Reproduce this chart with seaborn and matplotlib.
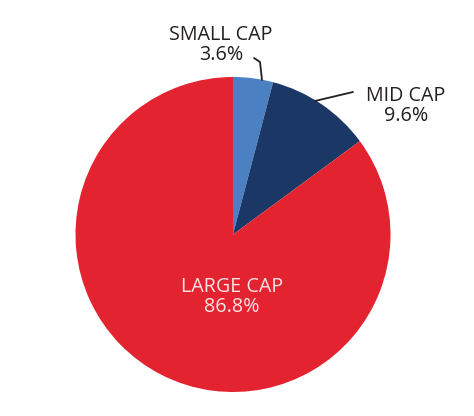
import matplotlib
matplotlib.use("Agg")
import matplotlib.pyplot as plt
import seaborn as sns

# market cap split
categories = ["SMALL CAP", "MID CAP", "LARGE CAP"]
label_pct = [3.6, 9.6, 86.8]
# wedge sizes as drawn in the picture (slightly off from the printed labels)
wedge_pct = [4.1, 10.8, 85.1]
colors = ["#4b80c3", "#1b3766", "#e3232f"]

sns.set_theme(style="white")
plt.rcParams["font.family"] = ["Open Sans", "DejaVu Sans"]

fig = plt.figure(figsize=(4.74, 4.16), dpi=100)
ax = fig.add_axes([0, 0, 1, 1])

# pie center at (233, 234) px, radius 157.5 px
R = 157.5
cx, cy = 233.0, 234.5

def px(x, y):
    return ((x - cx) / R, (cy - y) / R)

ax.pie(wedge_pct, colors=colors, startangle=90, counterclock=False, radius=1.0,
       wedgeprops=dict(linewidth=0))

ax.set_xlim(-cx / R, (474 - cx) / R)
ax.set_ylim(-(416 - cy) / R, cy / R)
ax.set_aspect("auto")
ax.axis("off")

txt = "#231f20"
fs = 14.2
# small cap label
ax.text(*px(221, 45), f"{categories[0]}\n{label_pct[0]}%", ha="center", va="center",
        fontsize=fs, color=txt, linespacing=1.05)
ax.plot(*zip(px(254, 58), px(260, 62), px(262, 80)), color=txt, lw=1.3)

# mid cap label
ax.text(*px(406, 106), f"{categories[1]}\n{label_pct[1]}%", ha="center", va="center",
        fontsize=fs, color=txt, linespacing=1.05)
ax.plot(*zip(px(353, 92), px(315, 101)), color=txt, lw=1.3)

# large cap label
ax.text(*px(232, 297), f"{categories[2]}\n{label_pct[2]}%", ha="center", va="center",
        fontsize=fs, color="#fbe3e4", linespacing=1.05)

fig.savefig("out.png", dpi=100)
